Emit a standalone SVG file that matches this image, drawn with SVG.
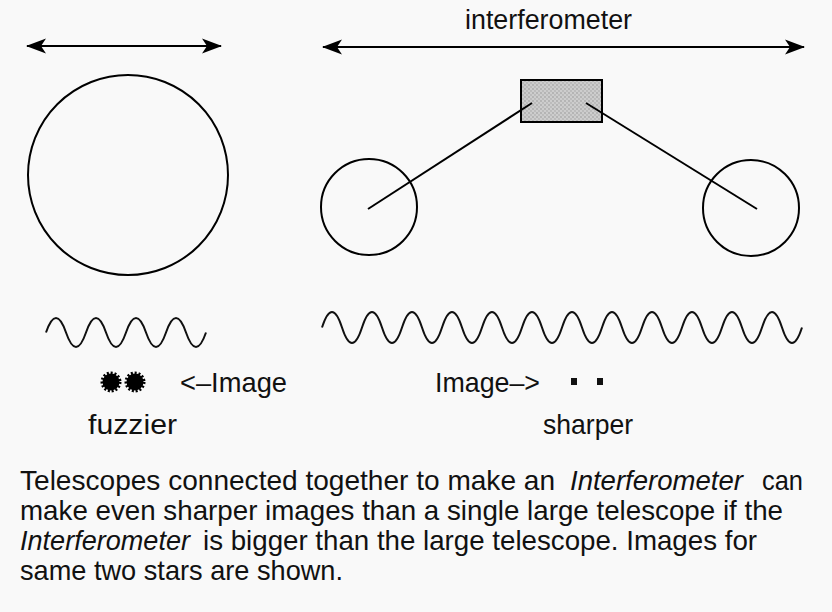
<svg xmlns="http://www.w3.org/2000/svg" width="832" height="612" viewBox="0 0 832 612">
  <style>
    .t { font-family: "Liberation Sans", Arial, sans-serif; font-size: 28px; fill: #111; }
    .h { font-family: "Liberation Sans", Arial, sans-serif; font-size: 27px; fill: #111; }
    .b { font-family: "Liberation Sans", Arial, sans-serif; font-size: 28.5px; fill: #111; }
    .i { font-style: italic; }
    .ln { stroke: #000; stroke-width: 2; fill: none; }
    .scope { stroke: #000; stroke-width: 2; fill: none; }
    .wave { stroke: #111; stroke-width: 2; fill: none; stroke-linejoin: round; }
  </style>
  <defs>
    <marker id="ah" markerUnits="userSpaceOnUse" markerWidth="24" markerHeight="18" viewBox="-21 -9 24 18" refX="0" refY="0" orient="auto-start-reverse">
      <path d="M1,0 L-19,-7.5 L-14,0 L-19,7.5 Z" fill="#000"/>
    </marker>
    <pattern id="stip" width="4" height="4" patternUnits="userSpaceOnUse">
      <rect width="4" height="4" fill="#cdcdcd"/>
      <circle cx="1" cy="1" r="0.9" fill="#a9a9a9"/>
      <circle cx="3" cy="3" r="0.9" fill="#b4b4b4"/>
    </pattern>
  </defs>
  <rect width="832" height="612" fill="#f9f9f9"/>

  <g id="connectors">
    <line class="ln" x1="27" y1="46" x2="221" y2="46" stroke-width="2.4" marker-start="url(#ah)" marker-end="url(#ah)"/>
    <line class="ln" x1="323" y1="47" x2="804" y2="47" stroke-width="2.4" marker-start="url(#ah)" marker-end="url(#ah)"/>
  </g>

  <g id="label-interferometer">
    <text class="h" x="465" y="29" textLength="167" lengthAdjust="spacingAndGlyphs">interferometer</text>
  </g>

  <g id="large-telescope">
    <circle class="scope" cx="128" cy="175" r="100"/>
  </g>

  <g id="combiner">
    <rect x="521" y="80" width="81" height="42" fill="url(#stip)" stroke="#000" stroke-width="2"/>
  </g>

  <g id="small-telescope-left">
    <circle class="scope" cx="369" cy="207" r="48"/>
  </g>
  <g id="small-telescope-right">
    <circle class="scope" cx="751" cy="208" r="48"/>
  </g>

  <g id="links">
    <line class="ln" x1="368" y1="209" x2="532" y2="103" stroke-width="1.6"/>
    <line class="ln" x1="757" y1="209" x2="586" y2="103" stroke-width="1.6"/>
  </g>

  <g id="wave-left">
    <path class="wave" d="M46,332.5 Q56,303.5 66,332.5 T86,332.5 T106,332.5 T126,332.5 T146,332.5 T166,332.5 T186,332.5 T206,332.5"/>
  </g>
  <g id="wave-right">
    <path class="wave" d="M322,327.5 Q332,296.5 342,327.5 T362,327.5 T382,327.5 T402,327.5 T422,327.5 T442,327.5 T462,327.5 T482,327.5 T502,327.5 T522,327.5 T542,327.5 T562,327.5 T582,327.5 T602,327.5 T622,327.5 T642,327.5 T662,327.5 T682,327.5 T702,327.5 T722,327.5 T742,327.5 T762,327.5 T782,327.5 T802,327.5"/>
  </g>

  <g id="fuzzy-image">
    <circle cx="111" cy="382" r="8.5" fill="#000"/>
    <circle cx="111" cy="382" r="9" fill="none" stroke="#000" stroke-width="3" stroke-dasharray="2 1.8"/>
    <circle cx="135" cy="382" r="8.5" fill="#000"/>
    <circle cx="135" cy="382" r="9" fill="none" stroke="#000" stroke-width="3" stroke-dasharray="2 1.8"/>
    <text class="t" x="180" y="392" textLength="107" lengthAdjust="spacingAndGlyphs">&lt;–Image</text>
    <text class="t" x="88" y="434" textLength="89" lengthAdjust="spacingAndGlyphs">fuzzier</text>
  </g>

  <g id="sharp-image">
    <text class="t" x="435" y="392" textLength="105" lengthAdjust="spacingAndGlyphs">Image–&gt;</text>
    <rect x="571" y="378" width="6" height="7" fill="#111"/>
    <rect x="597" y="378" width="6" height="7" fill="#111"/>
    <text class="t" x="543" y="434" textLength="90" lengthAdjust="spacingAndGlyphs">sharper</text>
  </g>

  <g id="caption">
    <text class="b" x="20" y="490" textLength="535" lengthAdjust="spacingAndGlyphs">Telescopes connected together to make an</text>
    <text class="b i" x="570" y="490" textLength="173" lengthAdjust="spacingAndGlyphs">Interferometer</text>
    <text class="b" x="762" y="490" textLength="41" lengthAdjust="spacingAndGlyphs">can</text>
    <text class="b" x="20" y="520" textLength="763" lengthAdjust="spacingAndGlyphs">make even sharper images than a single large telescope if the</text>
    <text class="b i" x="20" y="550" textLength="170" lengthAdjust="spacingAndGlyphs">Interferometer</text>
    <text class="b" x="203" y="550" textLength="554" lengthAdjust="spacingAndGlyphs">is bigger than the large telescope. Images for</text>
    <text class="b" x="20" y="580" textLength="323" lengthAdjust="spacingAndGlyphs">same two stars are shown.</text>
  </g>
</svg>
